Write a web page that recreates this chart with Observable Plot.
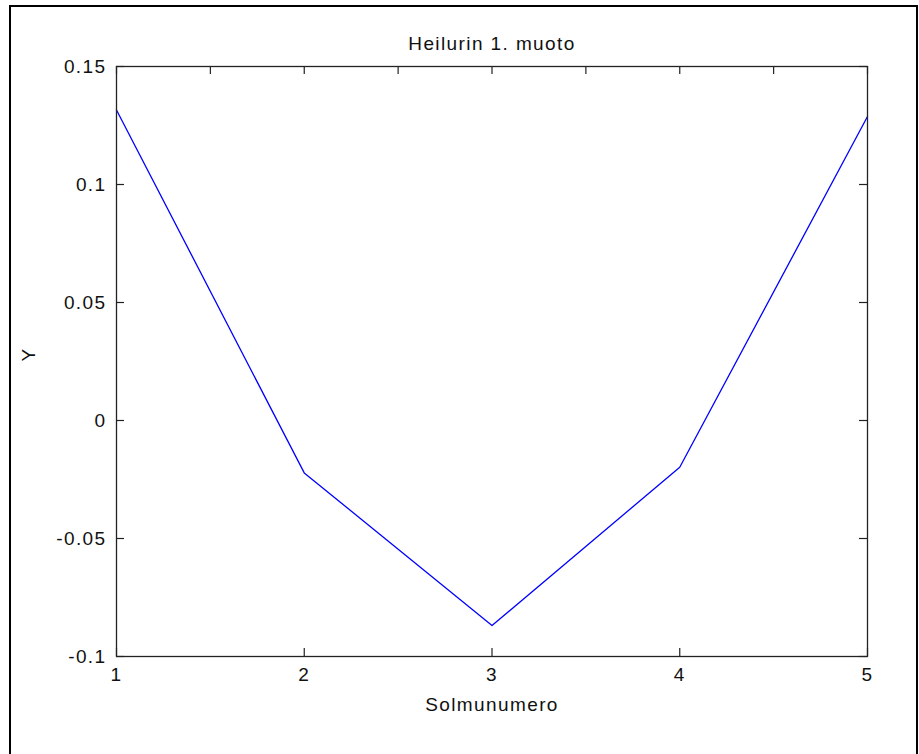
<!DOCTYPE html>
<html>
<head>
<meta charset="utf-8">
<script src="https://cdn.jsdelivr.net/npm/d3@7"></script>
<script src="https://cdn.jsdelivr.net/npm/@observablehq/plot@0.6"></script>
<style>
  html, body { margin: 0; padding: 0; background: #fff; overflow: hidden; }
  #wrap { position: relative; width: 919px; height: 754px; overflow: hidden; }
  #border { position: absolute; left: 9px; top: 5px; width: 905px; height: 800px; border: 2px solid #000; pointer-events: none; }
  #chart { position: absolute; left: 0; top: 0; }
</style>
</head>
<body>
<div id="wrap"><div id="chart"></div><div id="border"></div></div>
<script>
// Data
const nodes = [1, 2, 3, 4, 5];
const values = [0.1316, -0.0222, -0.0869, -0.0198, 0.1288];
const xTicks = [1, 2, 3, 4, 5];
const xTicksTop = [1, 1.5, 2, 2.5, 3, 3.5, 4, 4.5, 5];
const yTicks = [-0.1, -0.05, 0, 0.05, 0.1, 0.15];
const yTickLabels = ["-0.1", "-0.05", "0", "0.05", "0.1", "0.15"];
const titleText = "Heilurin 1. muoto";
const xLabel = "Solmunumero";
const yLabel = "Y";

const data = nodes.map((n, i) => ({node: n, y: values[i]}));

const width = 919, height = 754;
const marginLeft = 116, marginRight = 52, marginTop = 66, marginBottom = 98;
const plotW = width - marginLeft - marginRight;
const plotH = height - marginTop - marginBottom;
const tickLen = 8;
const font = "'Liberation Sans', Arial, Helvetica, sans-serif";

const yLabelMap = new Map(yTicks.map((t, i) => [t, yTickLabels[i]]));

const chart = Plot.plot({
  width, height, marginLeft, marginRight, marginTop, marginBottom,
  style: {fontFamily: font, fontSize: "19px", background: "transparent", letterSpacing: "1.4px"},
  x: {domain: [1, 5], axis: null},
  y: {domain: [-0.1, 0.15], axis: null},
  marks: [
    Plot.line(data, {x: "node", y: "y", stroke: "#0000ff", strokeWidth: 1.3}),
    // inward ticks
    Plot.tickX(xTicks, {x: d => d, stroke: "#222", strokeWidth: 1.2, insetTop: plotH - tickLen}),
    Plot.tickX(xTicksTop, {x: d => d, stroke: "#222", strokeWidth: 1.2, insetBottom: plotH - tickLen}),
    Plot.tickY(yTicks, {y: d => d, stroke: "#222", strokeWidth: 1.2, insetRight: plotW - tickLen}),
    Plot.tickY(yTicks, {y: d => d, stroke: "#222", strokeWidth: 1.2, insetLeft: plotW - tickLen}),
    Plot.frame({stroke: "#222", strokeWidth: 1.3}),
    // tick labels
    Plot.text(xTicks, {x: d => d, text: d => String(d), frameAnchor: "bottom", dy: 24, fontSize: 19, fill: "#111"}),
    Plot.text(yTicks, {y: d => d, text: d => yLabelMap.get(d), frameAnchor: "left", dx: -10, textAnchor: "end", fontSize: 19, fill: "#111"}),
    // titles
    Plot.text([titleText], {text: d => d, frameAnchor: "top", dy: -30, fontSize: 19, fill: "#111"}),
    Plot.text([xLabel], {text: d => d, frameAnchor: "bottom", dy: 54, fontSize: 19, fill: "#111"}),
    Plot.text([yLabel], {text: d => d, frameAnchor: "left", dx: -88, rotate: -90, fontSize: 19, fill: "#111"})
  ]
});
document.getElementById("chart").appendChild(chart);
</script>
</body>
</html>
